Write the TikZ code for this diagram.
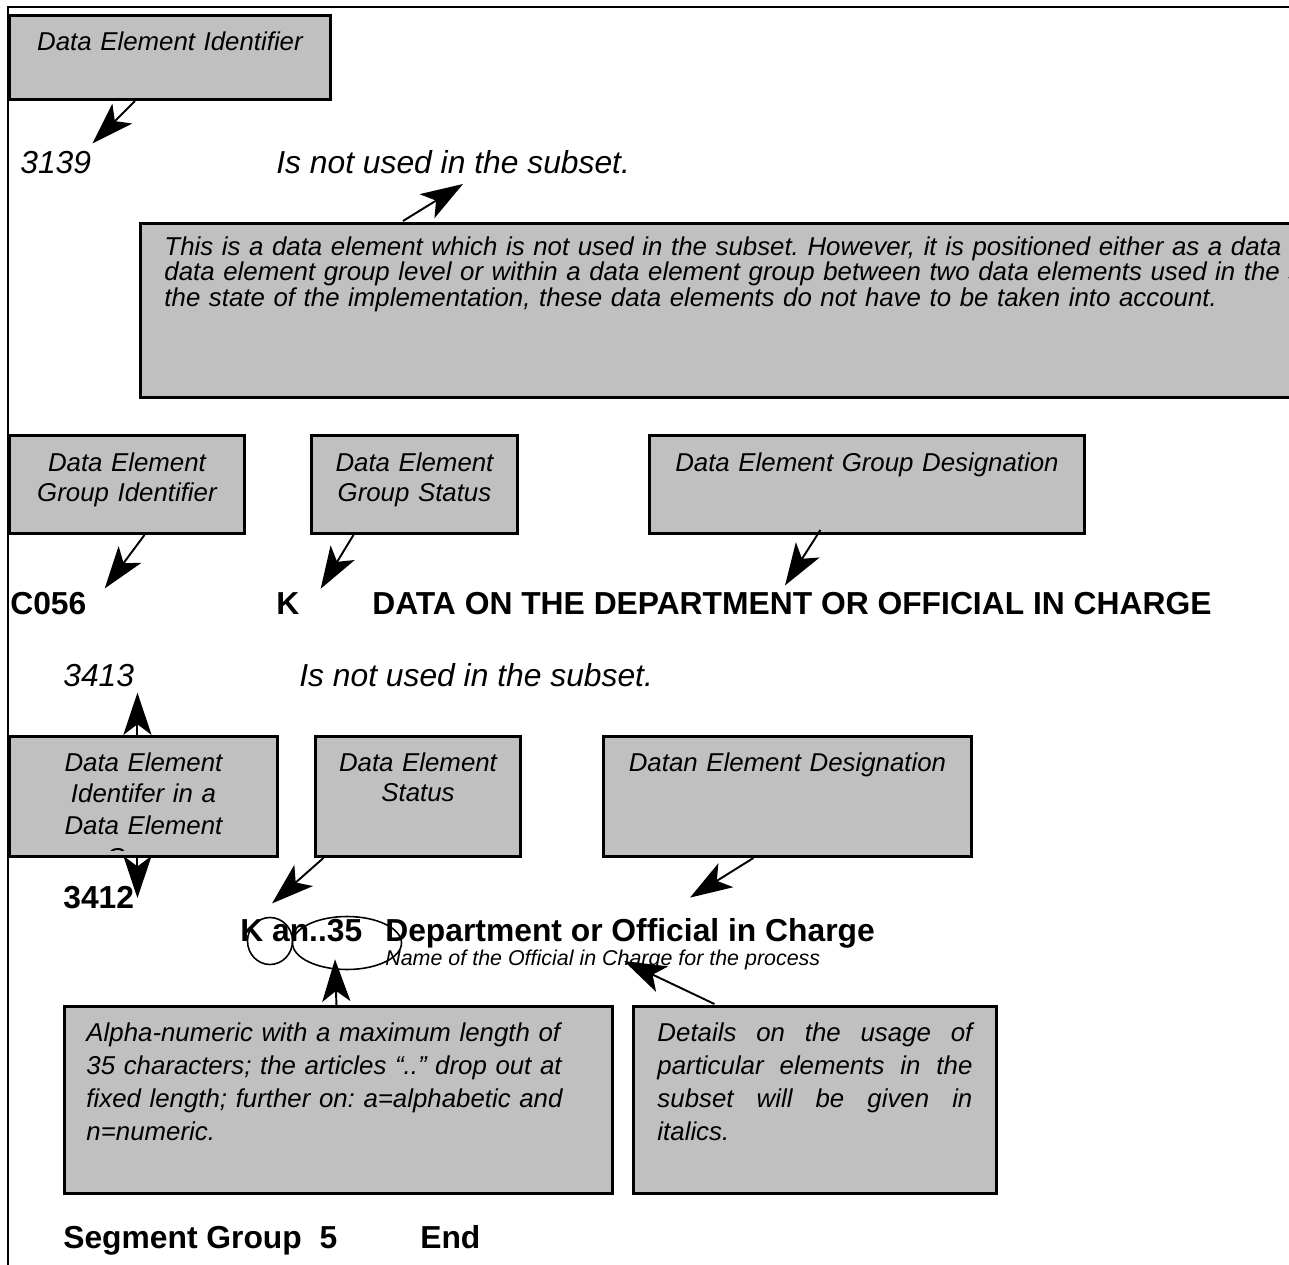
\documentclass[tikz,border=0pt]{standalone}
\usepackage{fontspec}
\setmainfont{Liberation Sans}
\usetikzlibrary{arrows.meta,shapes.geometric}
\definecolor{boxgrey}{HTML}{C0C0C0}
\frenchspacing

\begin{document}
\begin{tikzpicture}[x=0.02cm,y=-0.02cm,>={Stealth[length=24pt,width=16pt,inset=6pt]}]
  \tikzstyle{every node}+=[inner sep=0pt]
  \tikzstyle{greybox}=[draw=black, fill=boxgrey, line width=1.7pt, anchor=north west,
    inner xsep=0.08cm, text height=0.7cm, align=center,
    font=\fontsize{14.7}{17.3}\selectfont\itshape]
  \tikzstyle{pointer}=[black, line width=1.1pt, ->]
  \tikzstyle{bothways}=[black, line width=1.1pt, <->]
  \tikzstyle{boldline}=[anchor=base west, font=\fontsize{18.1}{20}\selectfont\bfseries]
  \tikzstyle{italline}=[anchor=base west, font=\fontsize{18.1}{20}\selectfont\itshape]
  \tikzstyle{ring}=[draw=black, ellipse, line width=0.9pt]

  \clip (0,0) rectangle (1289,1265);
  \draw [black, line width=1.1pt] (8,1265) -- (8,7) -- (1289,7);

  % unused data element
  \node [greybox, text width=6.26cm, text depth=0.98cm] (deid) at (8,14) {Data Element Identifier};
  \node [italline] (n3139) at (20,173) {3139};
  \node [italline] (unused1) at (276,173) {Is not used in the subset.};
  \draw [pointer] ([shift={(-35,0)}]deid.south) -- ([shift={(1,-7)}]n3139.north east);
  \node [greybox, align=left, inner xsep=0.48cm, text width=30cm, text height=0.64cm,
    text depth=2.84cm, font=\fontsize{14.7}{14.4}\selectfont\itshape] (unusednote) at (139,222)
    {This is a data element which is not used in the subset. However, it is positioned either as a data element\\
     data element group level or within a data element group between two data elements used in the subset.\\
     the state of the implementation, these data elements do not have to be taken into account.};
  \draw [pointer] ([shift={(264,-1)}]unusednote.north west) -- ([shift={(187,11)}]unused1.base west);

  % data element group
  \node [greybox, text width=4.54cm, text height=0.72cm, text depth=1.24cm] (grpid) at (8,434) {Data Element\\Group Identifier};
  \node [greybox, text width=3.96cm, text height=0.72cm, text depth=1.24cm] (grpstatus) at (310,434) {Data Element\\Group Status};
  \node [greybox, text width=8.54cm, text height=0.72cm, text depth=1.24cm] (grpdesig) at (648,434) {Data Element Group Designation};
  \node [boldline] (c056) at (10,614) {C056};
  \node [boldline] (kgrp) at (276,614) {K};
  \node [boldline] (grpname) at (372,614) {DATA ON THE DEPARTMENT OR OFFICIAL IN CHARGE};
  \draw [pointer] ([shift={(17.5,0)}]grpid.south) -- ([shift={(18,-3)}]c056.north east);
  \draw [pointer] ([shift={(-61,0)}]grpstatus.south) -- ([shift={(21,-3)}]kgrp.north east);
  \draw [pointer] ([shift={(-46.5,-5)}]grpdesig.south) -- ([shift={(413,-6)}]grpname.north west);

  % data element in the group
  \node [italline] (n3413) at (63,686) {3413};
  \node [italline] (unused2) at (299,686) {Is not used in the subset.};
  \node [boldline] (n3412) at (63,908) {3412};
  \draw [bothways] ([shift={(3,6)}]n3413.south east) -- ([shift={(3,1)}]n3412.east);
  \node [greybox, text width=5.20cm, text height=0.70cm, text depth=1.70cm,
    font=\fontsize{14.7}{17.8}\selectfont\itshape] (elemid) at (8,735) {Data Element\\Identifer in a\\Data Element};
  \begin{scope}
    \clip (10,737) rectangle (274,850);
    \node [anchor=base, font=\fontsize{14.7}{17.8}\selectfont\itshape] (elemidcut) at (142,866) {Group};
  \end{scope}
  \node [greybox, text width=3.94cm, text height=0.70cm, text depth=1.70cm] (elemstatus) at (314,735) {Data Element\\Status};
  \node [greybox, text width=7.20cm, text height=0.70cm, text depth=1.70cm] (elemdesig) at (602,735) {Datan Element Designation};
  \node [boldline] (kfmt) at (240,941) {K an..35};
  \node [boldline] (dename) at (385,941) {Department or Official in Charge};
  \node [anchor=base west, font=\fontsize{12.2}{13}\selectfont\itshape] (deinfo) at (385,965) {Name of the Official in Charge for the process};
  \node [ring, minimum width=0.9cm, minimum height=0.94cm] (kring) at (270,941) {};
  \node [ring, minimum width=2.18cm, minimum height=1.06cm] (lenring) at (347,943) {};
  \draw [pointer] ([shift={(-94.5,0)}]elemstatus.south) -- ([shift={(32,-15)}]kfmt.north west);
  \draw [pointer] ([shift={(-34,0)}]elemdesig.south) -- ([shift={(305,-20)}]dename.north west);

  % notes on format and usage
  \node [greybox, align=left, inner xsep=0.44cm, text width=10.08cm, text height=0.70cm, text depth=3.04cm,
    font=\fontsize{14.7}{18.7}\selectfont\itshape] (fmtnote) at (63,1005)
    {Alpha-numeric with a maximum length of\\35 characters; the articles “..” drop out at\\fixed length; further on: a=alphabetic and\\n=numeric.};
  \node [greybox, align=justify, inner xsep=0.48cm, text width=6.30cm, text height=0.70cm, text depth=3.04cm,
    font=\fontsize{14.7}{18.7}\selectfont\itshape] (usagenote) at (632,1005)
    {Details on the usage of\linebreak particular elements in the\linebreak subset will be given in\linebreak italics.};
  \draw [pointer] ([shift={(-2,0)}]fmtnote.north) -- ([shift={(-12,-11)}]lenring.south);
  \draw [pointer] ([shift={(-100.5,-1)}]usagenote.north) -- ([shift={(239,-4)}]deinfo.base west);

  \node [boldline] (sgname) at (63,1248) {Segment Group\ \ 5};
  \node [boldline] (sgend) at (420,1248) {End};
\end{tikzpicture}
\end{document}
